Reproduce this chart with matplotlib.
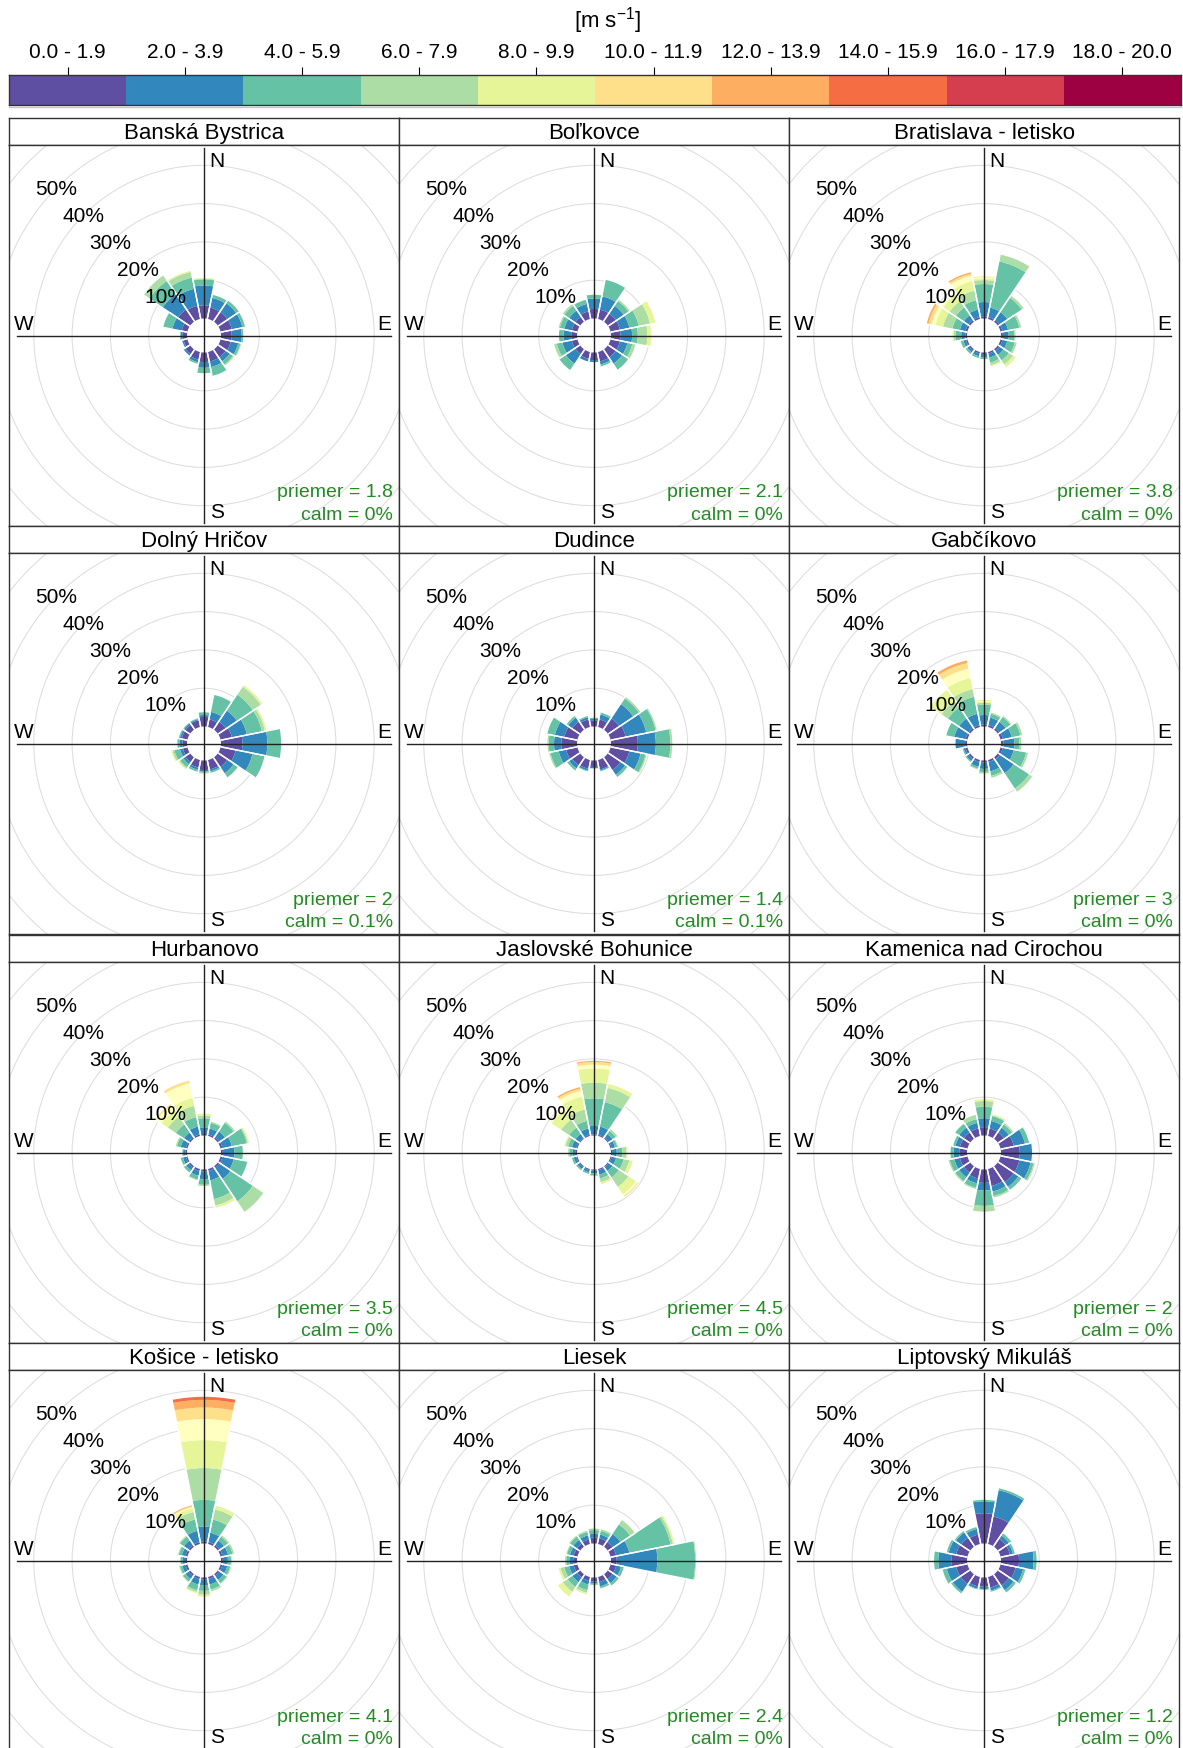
import numpy as np
import matplotlib
matplotlib.use("Agg")
import matplotlib.pyplot as plt
from matplotlib.patches import Wedge, Circle

plt.rcParams['font.family'] = ['Liberation Sans', 'DejaVu Sans']
plt.rcParams['mathtext.fontset'] = 'custom'
plt.rcParams['mathtext.rm'] = 'Liberation Sans'
plt.rcParams['mathtext.it'] = 'Liberation Sans'
plt.rcParams['mathtext.default'] = 'regular'

# ---------------- data ----------------
speed_labels = ["0.0 - 1.9", "2.0 - 3.9", "4.0 - 5.9", "6.0 - 7.9", "8.0 - 9.9",
                "10.0 - 11.9", "12.0 - 13.9", "14.0 - 15.9", "16.0 - 17.9", "18.0 - 20.0"]
legend_colors = ["#5E4FA2", "#3288BD", "#66C2A5", "#ABDDA4", "#E6F598",
                 "#FEE08B", "#FDAE61", "#F46D43", "#D53E4F", "#9E0142"]
rose_colors = ["#5E4FA2", "#3288BD", "#66C2A5", "#ABDDA4", "#E6F598", "#FFFFBF",
               "#FEE08B", "#FDAE61", "#F46D43", "#D53E4F", "#9E0142"]
directions = ["N", "NNE", "NE", "ENE", "E", "ESE", "SE", "SSE",
              "S", "SSW", "SW", "WSW", "W", "WNW", "NW", "NNW"]
stations = ["Banská Bystrica", "Boľkovce", "Bratislava - letisko",
            "Dolný Hričov", "Dudince", "Gabčíkovo",
            "Hurbanovo", "Jaslovské Bohunice", "Kamenica nad Cirochou",
            "Košice - letisko", "Liesek", "Liptovský Mikuláš"]
priemer = ["1.8", "2.1", "3.8", "2", "1.4", "3", "3.5", "4.5", "2", "4.1", "2.4", "1.2"]
calm = ["0%", "0%", "0%", "0.1%", "0.1%", "0%", "0%", "0%", "0%", "0%", "0%", "0%"]

# cumulative frequency (%) at the top of each speed class, per direction (N, NNE, ... NNW)
cum_banska_bystrica = [
    [3.4, 8.6, 10.2, 10.4, 10.6], [3.0, 5.6, 6.4], [3.0, 5.8, 6.6], [3.0, 5.8, 6.5],
    [2.8, 5.4, 5.8], [2.7, 4.7, 5.3, 5.5], [2.5, 3.8, 4.8, 5.1], [2.5, 4.0, 6.3],
    [2.5, 4.0, 5.4], [2.0, 2.7, 3.1], [1.5, 2.0], [1.0, 1.4],
    [1.2, 1.6, 1.8], [1.5, 4.0, 6.4], [3.8, 8.6, 12.8, 14.5], [3.5, 8.0, 11.0, 12.5, 12.8]]
cum_bolkovce = [
    [2.5, 5.2, 6.2], [2.5, 6.0, 10.4], [2.5, 5.0, 6.5, 6.9], [2.5, 5.0, 7.5, 10.5, 11.9],
    [2.5, 5.5, 7.0, 9.5, 10.5], [2.5, 4.5, 5.8, 6.6], [2.5, 4.5, 6.4], [2.5, 3.3, 3.8],
    [2.0, 2.5], [1.8, 2.5], [1.5, 4.5, 6.5], [1.5, 4.0, 5.5, 6.2],
    [1.5, 3.5, 4.7], [1.5, 3.5, 4.7, 5.0], [1.5, 3.5, 5.0, 5.5], [2.0, 4.0, 5.1]]
cum_bratislava = [
    [0.6, 4.3, 9.0, 10.0, 10.5, 10.8, 11.0], [0.5, 3.0, 15.3, 17.1], [0.5, 3.0, 7.5, 8.1],
    [0.5, 2.0, 5.0, 5.5], [0.5, 2.0, 3.5, 3.8], [0.5, 1.8, 3.8, 4.3],
    [0.5, 1.8, 3.5, 4.8, 5.6], [0.4, 1.5, 2.8, 3.5, 3.8], [0.4, 1.2, 1.7],
    [0.4, 1.1, 1.6], [0.4, 1.0, 1.5], [0.4, 1.1, 1.8], [0.4, 1.5, 3.0, 3.5, 3.8],
    [0.5, 2.0, 4.0, 6.5, 8.5, 9.5, 10.3, 10.8], [0.5, 2.0, 4.5, 6.5, 8.5, 9.0],
    [0.5, 2.5, 5.0, 7.5, 10.0, 11.5, 12.0, 12.4]]
cum_dolny_hricov = [
    [2.5, 3.0, 3.7], [2.0, 4.0, 8.5], [2.5, 6.0, 11.0, 13.5, 14.0], [3.0, 7.0, 11.0, 11.8, 12.2],
    [5.6, 12.1, 15.7], [4.0, 8.5, 11.7], [3.0, 5.0, 6.3], [2.5, 3.0, 3.4],
    [2.5, 2.9, 3.2, 3.4], [2.0, 2.6, 3.1], [1.5, 2.2, 3.2, 3.5, 3.8], [1.2, 2.0, 3.5, 4.0, 4.3],
    [1.2, 2.0, 2.5], [1.5, 2.0, 2.3], [1.5, 2.0, 2.2], [1.8, 2.1, 2.3]]
cum_dudince = [
    [1.5, 2.0, 2.3], [2.0, 3.3, 3.8], [3.5, 8.0, 9.8, 10.2], [4.0, 9.5, 12.0, 12.3],
    [7.0, 11.7, 15.5, 16.0], [5.0, 8.0, 9.3, 9.6], [4.0, 5.5, 6.2], [2.5, 2.8, 3.0],
    [1.7, 2.0, 2.1], [2.3, 2.8, 3.0], [2.5, 3.5, 4.1], [3.0, 5.0, 7.2, 7.5],
    [4.1, 6.0, 7.4, 7.7], [3.5, 6.0, 8.0], [2.5, 3.8, 4.3], [2.0, 2.6, 2.9]]
cum_gabcikovo = [
    [0.5, 3.0, 5.7, 6.2, 6.5, 6.7, 6.9], [0.5, 2.5, 3.5, 3.8], [0.5, 2.5, 4.0, 4.3],
    [0.6, 3.0, 5.3, 5.8], [0.6, 3.5, 4.8, 5.3], [0.6, 3.5, 6.8, 7.3], [0.6, 5.0, 9.8, 10.8],
    [0.5, 3.0, 4.2, 4.7], [0.5, 2.2, 3.0, 3.4], [0.5, 1.8, 2.3, 2.5], [0.5, 1.2, 1.5],
    [0.5, 1.0, 1.3], [0.5, 3.0], [0.5, 3.5, 5.6], [0.5, 3.5, 7.0, 9.0, 12.5],
    [0.5, 3.5, 8.0, 10.0, 13.0, 15.5, 17.0, 17.7]]
cum_hurbanovo = [
    [0.4, 2.0, 4.5, 5.2, 5.7], [0.4, 2.0, 3.5, 3.8], [0.4, 2.3, 5.0, 5.4], [0.5, 3.0, 7.0, 7.3, 7.6],
    [0.5, 3.5, 5.7], [0.5, 3.5, 7.1], [0.5, 4.0, 11.0, 14.3], [0.5, 3.0, 8.0, 9.7, 10.3],
    [0.5, 2.5, 4.0, 4.3], [0.5, 1.8, 2.8, 3.0], [0.4, 1.3, 2.0], [0.4, 1.2, 1.8],
    [0.4, 1.0, 1.2], [0.4, 1.8, 2.8, 3.1], [0.4, 2.0, 4.5, 7.0, 9.0, 10.5, 10.9],
    [0.4, 2.5, 5.0, 8.0, 10.0, 14.0, 14.7]]
cum_jaslovske_bohunice = [
    [0.3, 2.5, 9.7, 13.8, 17.5, 18.5, 19.2, 19.5], [0.3, 2.5, 9.0, 12.8, 13.8],
    [0.3, 1.5, 2.5, 3.0], [0.3, 1.2, 1.8, 2.0], [0.3, 1.5, 3.0, 4.0, 4.3],
    [0.3, 1.5, 3.5, 5.0, 5.9], [0.3, 1.5, 3.5, 6.5, 8.8, 9.3, 9.6], [0.3, 1.5, 2.5, 3.5, 4.0],
    [0.3, 1.0, 1.5, 1.7], [0.3, 0.9, 1.3], [0.3, 0.9, 1.3], [0.3, 1.0, 1.5],
    [0.3, 1.2, 2.0, 2.3], [0.3, 1.5, 2.5, 3.2, 3.5], [0.3, 1.5, 3.5, 6.0, 9.0, 9.5],
    [0.3, 2.0, 4.0, 7.0, 10.5, 12.0, 12.6, 13.0]]
cum_kamenica = [
    [2.0, 4.5, 7.5, 9.0, 9.5], [2.0, 4.0, 5.3, 5.5, 5.8], [2.0, 3.5, 4.5, 4.9], [3.5, 6.5, 7.6],
    [4.9, 8.1], [5.0, 8.0, 8.8, 9.1], [5.0, 6.5, 7.4], [4.5, 6.0, 7.2, 7.6],
    [3.5, 5.5, 9.5, 11.0], [2.5, 3.8, 5.0, 5.3], [2.0, 3.5, 4.7, 5.0], [2.0, 3.5, 4.7, 5.0],
    [2.0, 3.5, 4.3], [2.0, 3.2, 3.8], [2.0, 3.5, 4.7], [2.0, 3.5, 4.5, 5.6]]
cum_kosice = [
    [0.5, 4.4, 11.4, 19.7, 27.0, 32.5, 35.5, 37.5, 38.3], [0.5, 3.0, 6.5, 9.2, 10.1],
    [0.5, 2.0, 3.2, 3.6], [0.5, 2.0, 3.2, 3.6], [0.5, 1.8, 2.6, 2.8], [0.5, 1.8, 2.6, 2.8],
    [0.5, 1.8, 2.8, 3.0], [0.5, 2.0, 3.3, 3.8], [0.5, 2.0, 3.5, 4.5, 5.0],
    [0.5, 2.0, 3.5, 4.0, 4.3], [0.5, 1.5, 2.3, 2.5], [0.5, 1.4, 2.0, 2.2], [0.5, 1.2, 1.7],
    [0.5, 1.5, 2.3, 2.5], [0.5, 2.0, 3.2, 3.5], [0.5, 3.5, 6.5, 8.5, 9.5, 9.8, 10.1, 10.3]]
cum_liesek = [
    [1.5, 2.5, 3.5, 3.9], [1.5, 2.5, 3.5, 3.9], [1.5, 4.0, 7.0, 8.4], [1.5, 5.0, 16.0, 16.6, 17.0],
    [1.5, 12.1, 22.0, 22.2], [1.5, 2.8, 3.5], [1.5, 2.8, 3.5], [1.3, 2.5, 3.0],
    [1.0, 1.6, 1.9], [1.0, 2.0, 3.5, 4.2, 4.6], [1.0, 2.5, 4.0, 5.5, 7.0], [1.0, 2.2, 3.5, 4.5, 5.0],
    [1.0, 2.0, 2.8, 3.1], [1.0, 2.0, 2.8, 3.0], [1.0, 2.2, 3.2, 3.5], [1.2, 2.3, 3.2, 3.5]]
cum_liptovsky_mikulas = [
    [7.9, 11.0, 11.4], [7.3, 14.3, 14.8], [2.5, 3.5, 4.2], [2.5, 3.3, 3.8],
    [4.7, 8.5, 9.3], [4.0, 6.0, 6.6], [3.5, 5.0, 5.7], [2.8, 3.6, 3.9],
    [2.4, 3.0, 3.2], [2.5, 3.1, 3.3], [3.0, 5.5, 6.0], [3.0, 5.5, 6.6],
    [4.0, 7.5, 8.6], [3.0, 5.0, 5.5], [2.8, 4.5, 4.9], [2.5, 4.0, 4.5]]

station_data = [cum_banska_bystrica, cum_bolkovce, cum_bratislava,
                cum_dolny_hricov, cum_dudince, cum_gabcikovo,
                cum_hurbanovo, cum_jaslovske_bohunice, cum_kamenica,
                cum_kosice, cum_liesek, cum_liptovsky_mikulas]
grid_pcts = [10, 20, 30, 40, 50, 60, 70]
label_pcts = [10, 20, 30, 40, 50]

# ---------------- layout (pixels) ----------------
W, H = 1183, 1749
fig = plt.figure(figsize=(W / 100, H / 100), dpi=100)
fig.patch.set_facecolor("white")


def px_axes(left, top, width, height):
    return fig.add_axes([left / W, 1 - (top + height) / H, width / W, height / H])


EDGE = "#333333"
S = 3.83          # pixels per percent
OFF = 17 / S      # hole radius in percent units

# colour key
cax = px_axes(9, 76, 1172, 30)
cax.bar(np.arange(len(speed_labels)), np.ones(len(speed_labels)), width=1.0,
        color=legend_colors, edgecolor="none")
cax.set_xlim(-0.5, len(speed_labels) - 0.5)
cax.set_ylim(0, 1)
cax.set_yticks([])
cax.xaxis.tick_top()
cax.set_xticks(np.arange(len(speed_labels)))
cax.set_xticklabels(speed_labels, fontsize=15)
cax.tick_params(axis="x", length=6, width=0.8, pad=4, colors="black")
for sp in cax.spines.values():
    sp.set_color(EDGE)
    sp.set_linewidth(1.0)
fig.add_artist(plt.Line2D([9 / W, 1181 / W], [1 - 107.5 / H, 1 - 107.5 / H],
                          color="#c8c8c8", lw=1.0))
fig.text(608 / W, 1 - 21 / H, "[m s$^{-1}$]", ha="center", va="center", fontsize=16)

col_lefts = [9, 399, 789]
row_tops = [119, 527, 936, 1344]
PW, STRIP, PH = 390, 27, 381

for k, name in enumerate(stations):
    r, c = divmod(k, 3)
    left, top = col_lefts[c], row_tops[r]

    # strip
    sax = px_axes(left, top, PW, STRIP)
    sax.set_xticks([]); sax.set_yticks([])
    sax.set_xlim(0, 1); sax.set_ylim(0, 1)
    for sp in sax.spines.values():
        sp.set_color(EDGE); sp.set_linewidth(1.0)
    sax.text(0.5, 0.45, name, ha="center", va="center", fontsize=16)

    # rose panel
    ax = px_axes(left, top + STRIP, PW, PH)
    ax.set_xlim(-PW / 2 / S, PW / 2 / S)
    ax.set_ylim(-PH / 2 / S, PH / 2 / S)
    ax.set_xticks([]); ax.set_yticks([])
    for sp in ax.spines.values():
        sp.set_color(EDGE); sp.set_linewidth(1.0)

    for g in grid_pcts:
        ax.add_patch(Circle((0, 0), OFF + g, fill=False, ec="#dddddd", lw=0.75, zorder=1))

    data = station_data[k]
    for i, cum in enumerate(data):
        theta = 90 - i * 22.5
        t1, t2 = theta - 11.25, theta + 11.25
        prev = 0.0
        for j, cval in enumerate(cum):
            ax.add_patch(Wedge((0, 0), OFF + cval, t1, t2, width=cval - prev,
                               facecolor=rose_colors[j], edgecolor="none", lw=0, zorder=2))
            prev = cval
        rmax = OFF + cum[-1]
        for t in (t1, t2):
            tr = np.deg2rad(t)
            ax.plot([OFF * np.cos(tr), rmax * np.cos(tr)], [OFF * np.sin(tr), rmax * np.sin(tr)],
                    color="white", lw=1.0, zorder=3, solid_capstyle="butt")

    L = 48.9
    ax.plot([-L, L], [0, 0], color="#222222", lw=1.0, zorder=4)
    ax.plot([0, 0], [-L, L], color="#222222", lw=1.0, zorder=4)

    ax.text(13 / S, 175 / S, "N", ha="center", va="center", fontsize=15, zorder=5)
    ax.text(13 / S, -176 / S, "S", ha="center", va="center", fontsize=15, zorder=5)
    ax.text(180 / S, 12 / S, "E", ha="center", va="center", fontsize=15, zorder=5)
    ax.text(-180 / S, 12 / S, "W", ha="center", va="center", fontsize=15, zorder=5)

    for p in label_pcts:
        rr = OFF + p
        ax.text(-rr * np.cos(np.pi / 4), rr * np.sin(np.pi / 4), f"{p}%",
                ha="center", va="center", fontsize=15, zorder=5)

    ax.text(189 / S, -187 / S, f"priemer = {priemer[k]}\ncalm = {calm[k]}",
            ha="right", va="bottom", fontsize=14, color="#228B22",
            linespacing=1.45, zorder=5)

fig.savefig("out.png", dpi=100, facecolor="white")
